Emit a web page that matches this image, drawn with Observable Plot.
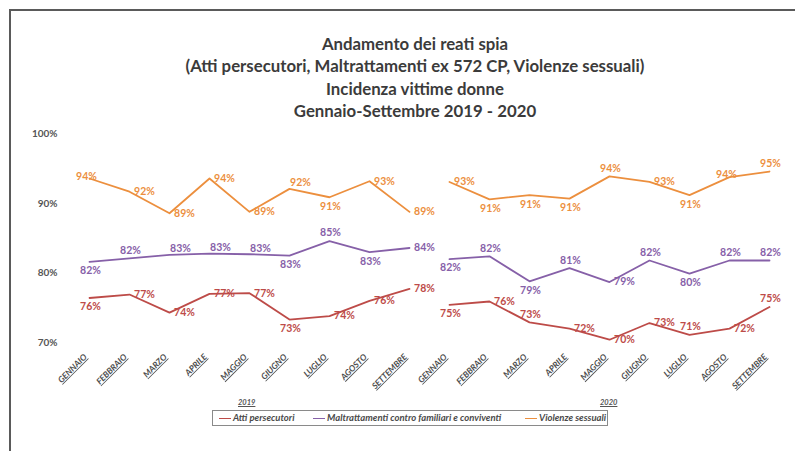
<!DOCTYPE html>
<html><head><meta charset="utf-8">
<script src="https://cdn.jsdelivr.net/npm/d3@7"></script>
<script src="https://cdn.jsdelivr.net/npm/@observablehq/plot@0.6"></script>
<style>
body{margin:0;background:#fff;font-family:Lato,"Open Sans",sans-serif;}
#wrap{position:relative;width:795px;height:451px;overflow:hidden;background:#fff;}
#frame{position:absolute;left:9px;top:9px;width:820px;height:480px;border-left:2px solid #5a5a5a;border-top:2px solid #5a5a5a;}
#title{position:absolute;left:0;top:33px;width:830px;text-align:center;font-weight:bold;font-size:16.8px;line-height:22.3px;color:#3b3b3b;}
#chart{position:absolute;left:0;top:120px;}
.yr{position:absolute;font-size:7.5px;font-weight:bold;font-style:italic;text-decoration:underline;color:#555;}
#legend{position:absolute;left:212px;top:410px;width:394px;height:14px;border:1px solid #8a8a8a;}
.li{position:absolute;top:1px;font-size:9.5px;font-weight:bold;font-style:italic;color:#4a4a4a;white-space:nowrap;line-height:12px;}
.li span{display:inline-block;width:12px;height:1.5px;vertical-align:middle;margin-right:2px;}
#chart g[aria-label="x-axis tick label"] text{text-decoration:underline;}
</style>
</head><body>
<div id="wrap">
  <div id="frame"></div>
  <div id="title">Andamento dei reati spia<br>(Atti persecutori, Maltrattamenti ex 572 CP, Violenze sessuali)<br>Incidenza vittime donne<br>Gennaio-Settembre 2019 - 2020</div>
  <div id="chart"></div>
  <div class="yr" id="y2019" style="left:238px;top:398px;"></div>
  <div class="yr" id="y2020" style="left:600px;top:398px;"></div>
  <div id="legend"></div>
</div>
<script>
const months = ["GENNAIO","FEBBRAIO","MARZO","APRILE","MAGGIO","GIUGNO","LUGLIO","AGOSTO","SETTEMBRE"];
const years = ["2019","2020"];
const seriesNames = ["Atti persecutori","Maltrattamenti contro familiari e conviventi","Violenze sessuali"];
const seriesColors = ["#bd4b48","#8660a8","#ec8f3e"];
const yTicks = [70,80,90,100];

// values (%), 9 months 2019 then 9 months 2020
const atti = [76.4,76.9,74.3,77.0,77.1,73.3,73.8,76.0,77.7, 75.4,75.9,72.9,72.0,70.4,72.8,71.1,72.0,75.1];
const maltrattamenti = [81.6,82.1,82.6,82.8,82.7,82.5,84.6,83.0,83.6, 82.0,82.4,78.8,80.7,78.7,81.8,79.9,81.8,81.8];
const violenze = [93.6,91.7,88.6,93.6,88.8,92.1,90.9,93.2,88.8, 93.1,90.6,91.2,90.7,93.9,93.1,91.2,93.8,94.6];

// label placement codes (r=right, a=above, ar=above-right, b=below, c=on point)
const placeAtti = ["b","r","r","r","r","b","r","r","r", "b","r","a","r","r","r","a","r","a"];
const placeMaltr = ["b","a","ar","ar","ar","b","a","b","r", "b","a","b","a","r","a","b","a","a"];
const placeViol = ["c","r","r","r","r","ar","b","r","r", "r","b","b","b","a","r","b","c","a"];

document.getElementById("y2019").textContent = years[0];
document.getElementById("y2020").textContent = years[1];

const keys = [];
years.forEach(y => months.forEach(m => keys.push(m + "|" + y)));

const seriesValues = [atti, maltrattamenti, violenze];
const seriesPlace = [placeAtti, placeMaltr, placeViol];
const rows = [];
seriesNames.forEach((s, si) => {
  keys.forEach((k, i) => {
    rows.push({series: s, key: k, year: k.split("|")[1], value: seriesValues[si][i], place: seriesPlace[si][i]});
  });
});

const offsets = {r:[15,0], a:[1,-8], ar:[11,-6], b:[1,9], c:[-3,-2]};
const labelMarks = Object.entries(offsets).map(([code,[dx,dy]]) =>
  Plot.text(rows, {filter: d => d.place === code, x: "key", y: "value", dx, dy,
    text: d => Math.round(d.value) + "%", fill: "series", fontSize: 10.5, fontWeight: "bold"}));

const chart = Plot.plot({
  width: 795, height: 290,
  marginTop: 13.5, marginBottom: 68, marginLeft: 87, marginRight: 25,
  style: {fontFamily: "Lato, 'Open Sans', sans-serif", background: "transparent"},
  x: {type: "point", domain: keys, padding: 0},
  y: {domain: [70, 100]},
  color: {domain: seriesNames, range: seriesColors},
  marks: [
    Plot.axisY({ticks: yTicks, tickFormat: d => d + "%", tickSize: 0, tickPadding: 30, fontSize: 10, fontWeight: "bold", fill: "#555", label: null}),
    Plot.axisX({tickRotate: -45, tickSize: 0, tickPadding: 5, dy: 8, dx: -4, tickFormat: k => k.split("|")[0], fontSize: 8.5, fontWeight: "bold", fontStyle: "italic", fill: "#4d4d4d", label: null}),
    Plot.line(rows, {x: "key", y: "value", z: d => d.series + d.year, stroke: "series", strokeWidth: 1.8}),
    ...labelMarks
  ]
});
document.getElementById("chart").appendChild(chart);

const legend = document.getElementById("legend");
const legendLeft = [6, 100, 312];
seriesNames.forEach((s, i) => {
  const div = document.createElement("div");
  div.className = "li";
  div.style.left = legendLeft[i] + "px";
  const sw = document.createElement("span");
  sw.style.background = seriesColors[i];
  div.appendChild(sw);
  div.appendChild(document.createTextNode(s));
  legend.appendChild(div);
});
</script>
</body></html>
